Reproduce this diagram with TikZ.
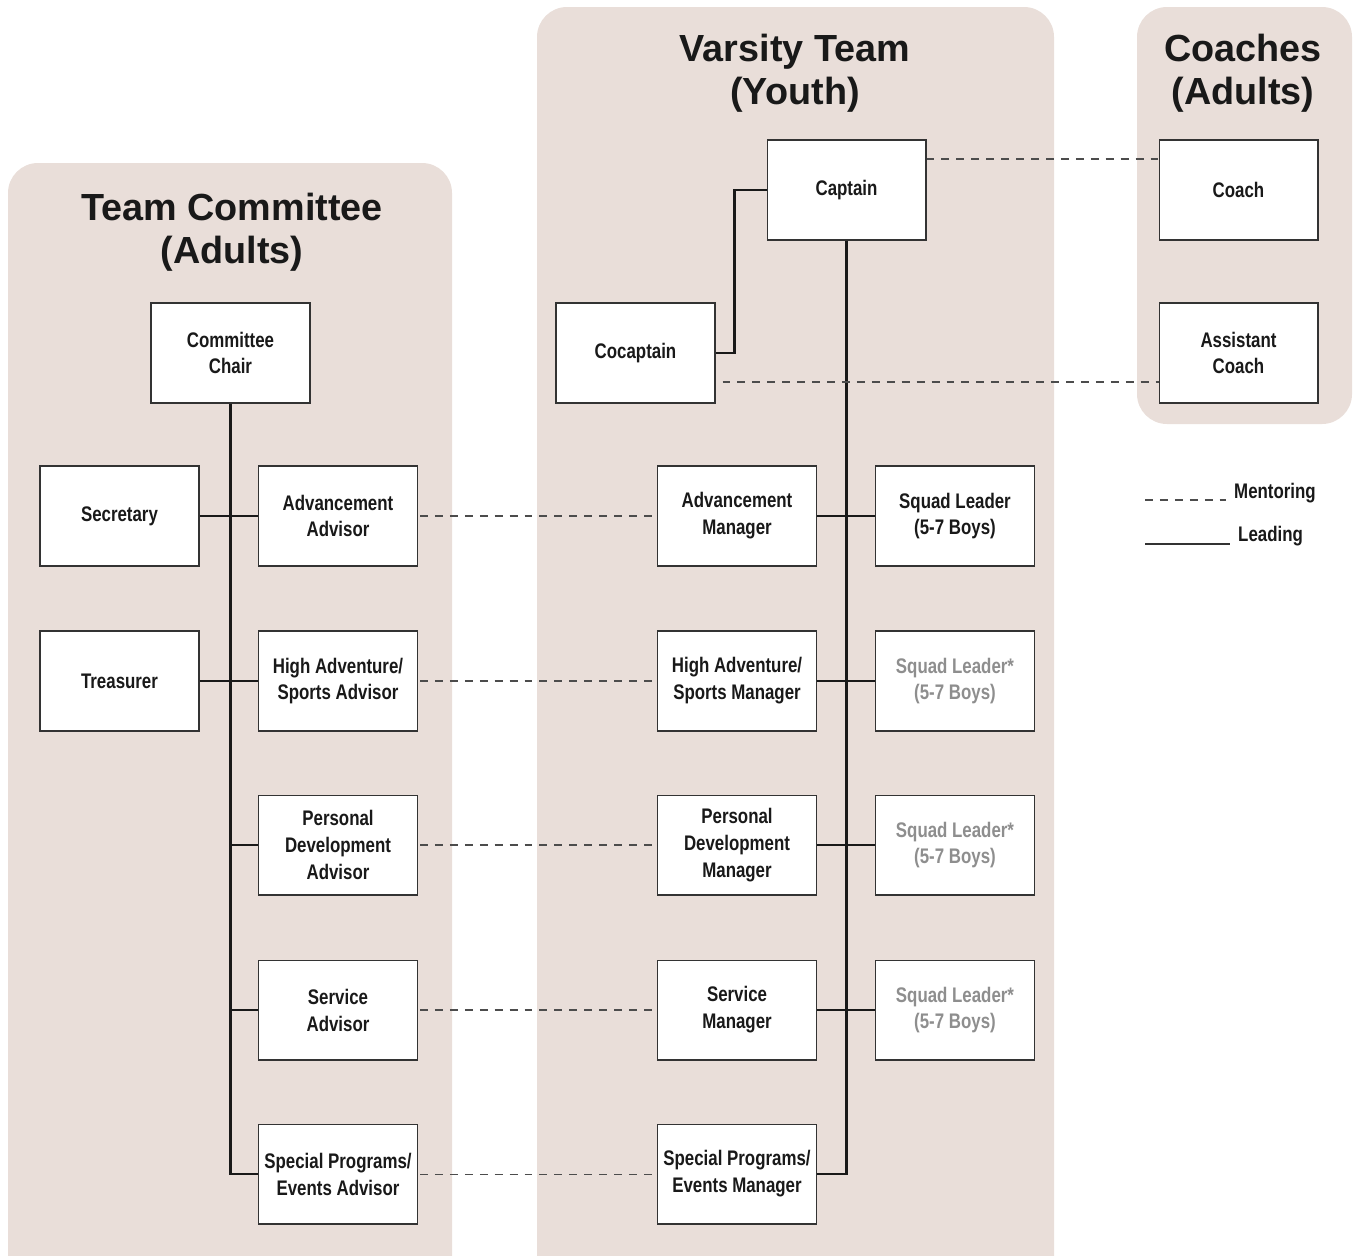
\documentclass[tikz,border=0pt]{standalone}
\usepackage{fontspec}
\setmainfont{Liberation Sans}
\newfontfamily\narrowfont{Liberation Sans}[FakeStretch=0.80]
\usetikzlibrary{positioning}

\definecolor{panelfill}{HTML}{E9DED9}
\definecolor{dimtext}{HTML}{8E8E8E}

\begin{document}
\begin{tikzpicture}[x = 0.02cm, y = -0.02cm,
	panel/.style = {fill = panelfill, rounded corners = 0.6cm},
	title/.style = {align = center, text = black!90, font = \fontsize{21.5}{24.5}\selectfont\bfseries},
	box/.style = {draw = black!80, fill = white, line width = 0.6pt, minimum width = 3.18cm, minimum height = 2cm, inner xsep = 1pt, align = center, text = black!90, font = \narrowfont\bfseries\fontsize{12}{15.3}\selectfont},
	dimbox/.style = {box, text = dimtext},
	legendtext/.style = {right, text = black!90, font = \narrowfont\bfseries\fontsize{12}{15.3}\selectfont},
	lead/.style = {line width = 1.3pt, black!90},
	mentor/.style = {line width = 0.6pt, black!70, dash pattern = on 4.5pt off 4pt}]

% Page

\useasboundingbox (0, 0) rectangle (1354, 1255);
\clip (0, 0) rectangle (1354, 1255);

% Panels

\fill [panel] (8, 163) rectangle (452, 1300);
\fill [panel] (537, 7) rectangle (1054, 1300);
\fill [panel] (1137, 7) rectangle (1352, 424);

% Titles

\node [title] (committeetitle) at (232, 232) {Team Committee\\(Adults)};
\node [title] (varsitytitle) at (795, 73) {Varsity Team\\(Youth)};
\node [title] (coachestitle) at (1243, 73) {Coaches\\(Adults)};

% Team committee

\node [box] (chair) at (230.5, 353) {Committee\\Chair};
\node [box] (secretary) at (119.5, 516) {Secretary};
\node [box] (treasurer) at (119.5, 681) {Treasurer};
\node [box] (advadvisor) at (338, 516) {Advancement\\Advisor};
\node [box] (haadvisor) at (338, 681) {High Adventure/\\Sports Advisor};
\node [box] (pdadvisor) at (338, 845) {Personal\\Development\\Advisor};
\node [box] (svadvisor) at (338, 1010) {Service\\Advisor};
\node [box] (spadvisor) at (338, 1174) {Special Programs/\\Events Advisor};

% Varsity team

\node [box] (captain) at (846.5, 190) {Captain};
\node [box] (cocaptain) at (635.5, 353) {Cocaptain};
\node [box] (advmanager) at (737, 516) {Advancement\\Manager};
\node [box] (hamanager) at (737, 681) {High Adventure/\\Sports Manager};
\node [box] (pdmanager) at (737, 845) {Personal\\Development\\Manager};
\node [box] (svmanager) at (737, 1010) {Service\\Manager};
\node [box] (spmanager) at (737, 1174) {Special Programs/\\Events Manager};
\node [box] (squadA) at (955, 516) {Squad Leader\\(5-7 Boys)};
\node [dimbox] (squadB) at (955, 681) {Squad Leader*\\(5-7 Boys)};
\node [dimbox] (squadC) at (955, 845) {Squad Leader*\\(5-7 Boys)};
\node [dimbox] (squadD) at (955, 1010) {Squad Leader*\\(5-7 Boys)};

% Coaches

\node [box] (coach) at (1238.5, 190) {Coach};
\node [box] (asstcoach) at (1238.5, 353) {Assistant\\Coach};

% Leading lines

\draw [lead] (chair.south) -- (chair.south |- spadvisor.west) -- (spadvisor.west);
\draw [lead] (secretary.east) -- (advadvisor.west);
\draw [lead] (treasurer.east) -- (haadvisor.west);
\draw [lead] (chair.south |- pdadvisor.west) -- (pdadvisor.west);
\draw [lead] (chair.south |- svadvisor.west) -- (svadvisor.west);

\draw [lead] (captain.south) -- (captain.south |- spmanager.east) -- (spmanager.east);
\draw [lead] (captain.west) -- ++(-32, 0) |- (cocaptain.east);
\draw [lead] (advmanager.east) -- (squadA.west);
\draw [lead] (hamanager.east) -- (squadB.west);
\draw [lead] (pdmanager.east) -- (squadC.west);
\draw [lead] (svmanager.east) -- (squadD.west);

% Mentoring lines

\draw [mentor] ([yshift = 0.62cm] captain.east) -- ([yshift = 0.62cm] coach.west);
\draw [mentor] ([xshift = 0.14cm, yshift = -0.58cm] cocaptain.east) -- ([yshift = -0.58cm] asstcoach.west);
\draw [mentor] ([xshift = 0.04cm] advadvisor.east) -- (advmanager.west);
\draw [mentor] ([xshift = 0.04cm] haadvisor.east) -- (hamanager.west);
\draw [mentor] ([xshift = 0.04cm] pdadvisor.east) -- (pdmanager.west);
\draw [mentor] ([xshift = 0.04cm] svadvisor.east) -- (svmanager.west);
\draw [mentor] ([xshift = 0.04cm] spadvisor.east) -- (spmanager.west);

% Legend

\coordinate (mentorstart) at (1145, 500);
\coordinate (mentorend) at (1226, 500);
\coordinate (leadstart) at (1145, 544);
\coordinate (leadend) at (1230, 544);
\draw [mentor] (mentorstart) -- (mentorend);
\draw [line width = 0.6pt, black!80] (leadstart) -- (leadend);
\node [legendtext] (mentoring) at (1228, 493) {Mentoring};
\node [legendtext] (leading) at (1232, 536) {Leading};

\end{tikzpicture}
\end{document}
